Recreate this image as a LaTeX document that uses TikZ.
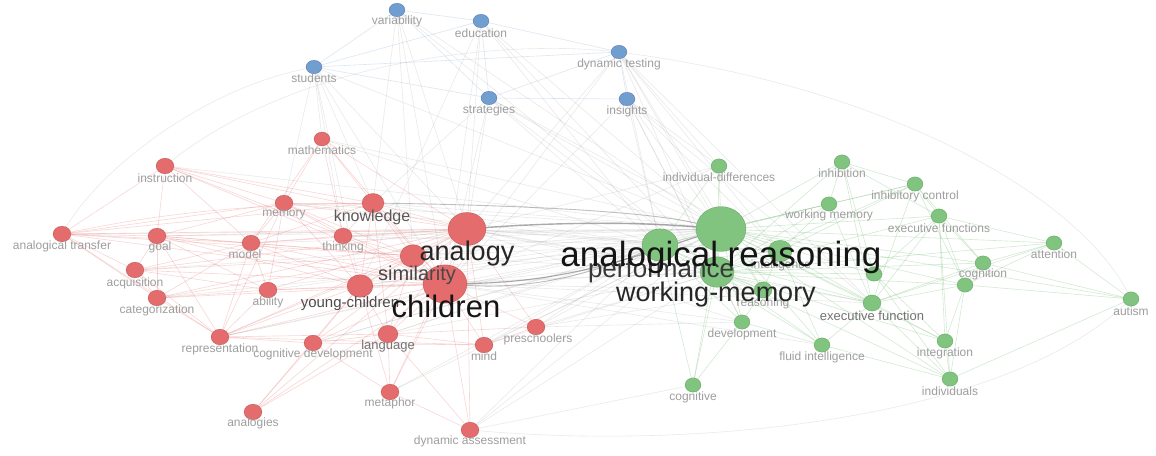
\documentclass[tikz,border=0pt]{standalone}
\usepackage{fontspec}
\setmainfont{Liberation Sans}
\usetikzlibrary{shapes.geometric,backgrounds}
\definecolor{redN}{RGB}{228,108,108}
\definecolor{blueN}{RGB}{112,158,206}
\definecolor{greenN}{RGB}{128,196,128}
\definecolor{redE}{RGB}{236,120,120}
\definecolor{greyE}{RGB}{150,150,150}
\definecolor{greenE}{RGB}{110,185,110}
\definecolor{blueE}{RGB}{140,175,210}
\definecolor{labG}{RGB}{158,158,158}
\tikzset{
  vnode/.style={ellipse, inner sep=0pt, draw opacity=0.3, line width=0.4pt},
  rn/.style={vnode, fill=redN, draw=red!40!black},
  bn/.style={vnode, fill=blueN, draw=blue!40!black},
  gn/.style={vnode, fill=greenN, draw=green!30!black},
  slab/.style={inner sep=0pt, text=labG, font=\fontsize{12}{14}\selectfont},
  mlab/.style={inner sep=0pt, text=black!55, font=\fontsize{13}{15}\selectfont},
  blab/.style={inner sep=0pt, anchor=base},
  re/.style={draw=redE, opacity=0.3, line width=0.6pt},
  ge/.style={draw=greyE, opacity=0.2, line width=0.6pt},
  gre/.style={draw=greenE, opacity=0.3, line width=0.6pt},
  be/.style={draw=blueE, opacity=0.3, line width=0.6pt},
  thick grey/.style={draw=black!55, opacity=0.6, line width=1.4pt},
}
\begin{document}
\begin{tikzpicture}[x=1pt,y=-1pt]
\useasboundingbox (0,0) rectangle (1156,455);
% ---------- nodes ----------
\foreach \n/\x/\y/\r in {var/397/10/8, edu/481/21/8, stu/314/67/8, dyt/619/52/8, str/489/98/8, ins/627/99/8}
  \node[bn, minimum width=2*\r pt, minimum height=1.7*\r pt] (\n) at (\x,\y) {};
\foreach \n/\x/\y/\r in {math/322/139/8, instr/165/166/9, mem/284/203/9, know/373/203/11, atr/62/234/9, goal/157/236/9, model/251/243/9, think/343/236/9, analogy/467/229/19, sim/413/256/13, acq/135/270/9, cat/157/298/9, abil/268/290/9, yc/360/286/13, child/445/284/22, repr/220/337/9, cogdev/313/343/9, lang/388/334/10, mind/484/345/9, presch/536/327/9, meta/390/392/9, analogies/253/412/9, dyna/470/430/9}
  \node[rn, minimum width=2*\r pt, minimum height=1.75*\r pt] (\n) at (\x,\y) {};
\foreach \n/\x/\y/\r in {indiv/719/166/8, inhib/842/162/8, inhc/915/184/8, wmem/829/204/8, exfs/939/216/8, ar/721/229/25, perf/660/245/18, wm/717/272/17, intel/780/251/12, attn/1054/243/8, cogn/983/263/8, ga/874/274/8, gb/965/285/8, reas/763/290/9, exf/872/303/9, dev/742/322/8, fluid/822/345/8, integ/945/341/8, autism/1131/299/8, cogv/693/385/8, indivs/950/379/8}
  \node[gn, minimum width=2*\r pt, minimum height=1.8*\r pt] (\n) at (\x,\y) {};
% ---------- edges ----------
\begin{pgfonlayer}{background}
\fill[white] (0,0) rectangle (1156,455);
\foreach \a/\b in {analogy/know, analogy/mem, analogy/think, analogy/sim, analogy/yc, analogy/child, analogy/model, analogy/goal, analogy/atr, analogy/acq, analogy/cat, analogy/abil, analogy/repr, analogy/cogdev, analogy/lang, analogy/mind, analogy/meta, analogy/dyna, analogy/instr, analogy/math, analogy/presch, analogy/analogies,
 child/sim, child/yc, child/lang, child/mind, child/meta, child/repr, child/cogdev, child/abil, child/model, child/goal, child/acq, child/cat, child/atr, child/mem, child/know, child/think, child/presch, child/dyna, child/analogies, child/instr, child/math,
 sim/yc, sim/know, sim/mem, sim/think, sim/model, sim/goal, sim/atr, sim/lang, sim/cat, sim/acq, sim/repr,
 yc/mem, yc/think, yc/lang, yc/cogdev, yc/repr, yc/model, yc/know, yc/abil, yc/meta, yc/analogies, yc/goal,
 know/mem, know/think, know/math, know/instr, know/atr, know/model, know/lang,
 atr/mem, atr/goal, atr/acq, atr/repr, atr/model, atr/instr, atr/cat,
 instr/mem, instr/model, instr/think, instr/goal,
 mem/think, mem/model, mem/goal, mem/abil, mem/repr, mem/math,
 math/think, math/model, goal/model, goal/repr, goal/cat, goal/acq, goal/abil,
 model/abil, model/repr, model/cat, model/acq, model/think,
 acq/repr, acq/cat, acq/abil, cat/repr, cat/abil,
 repr/cogdev, repr/lang, repr/abil, repr/mind,
 cogdev/lang, cogdev/mind, cogdev/analogies, cogdev/meta,
 lang/meta, lang/mind, lang/presch, mind/presch, meta/dyna, analogies/lang, dyna/lang}
  \draw[re] (\a) -- (\b);
\foreach \a/\b in {analogy/perf, analogy/wm, child/perf, child/wm, sim/perf, sim/ar, know/ar, yc/ar, yc/perf, mem/ar, think/perf, lang/ar, lang/perf, presch/ar, presch/wm, presch/perf, mind/ar, mind/perf, dyna/perf, dyna/ar, dyna/cogv, dyna/wm, meta/ar, cogdev/ar, repr/perf, child/intel, analogy/intel, child/dev, analogy/exf, child/reas,
 mem/perf, think/ar, model/ar, goal/ar, atr/ar, abil/ar, repr/ar, cat/perf, acq/ar, instr/ar, math/ar, math/perf, know/perf, yc/wm, sim/wm, lang/wm, mind/wm, presch/dev, presch/reas, child/exf, analogy/reas, analogy/dev, child/fluid, analogy/indiv, child/indiv, meta/perf, cogdev/perf,
 stu/math, stu/know, stu/analogy, stu/child, stu/think, stu/yc, stu/ar, stu/mem,
 var/analogy, var/child, var/sim, var/ar, var/wm, var/know,
 edu/child, edu/ar, edu/perf, edu/analogy, edu/wm, edu/yc,
 dyt/ar, dyt/perf, dyt/wm, dyt/intel, dyt/child, dyt/exf, dyt/analogy, dyt/indiv, dyt/reas,
 str/ar, str/child, str/perf, str/analogy, str/wm, str/intel, str/know,
 ins/ar, ins/perf, ins/wm, ins/intel, ins/child, ins/exf, ins/dev, ins/indiv}
  \draw[ge] (\a) -- (\b);
\foreach \a/\b in {var/edu, var/stu, var/str, edu/dyt, edu/str, edu/stu, stu/str, stu/dyt, dyt/str, dyt/ins, str/ins}
  \draw[be] (\a) -- (\b);
\foreach \a/\b in {ar/indiv, ar/inhib, ar/inhc, ar/wmem, ar/exfs, ar/perf, ar/intel, ar/attn, ar/cogn, ar/ga, ar/gb, ar/reas, ar/exf, ar/dev, ar/fluid, ar/integ, ar/autism, ar/cogv, ar/indivs, ar/wm,
 wm/perf, wm/intel, wm/wmem, wm/exfs, wm/inhc, wm/inhib, wm/exf, wm/reas, wm/dev, wm/fluid, wm/integ, wm/indivs, wm/cogv, wm/ga, wm/gb, wm/cogn, wm/attn, wm/indiv,
 perf/indiv, perf/intel, perf/reas, perf/dev, perf/cogv, perf/fluid, perf/exf, perf/wmem,
 intel/reas, intel/fluid, intel/wmem, intel/exf, intel/inhc,
 exf/inhib, exf/inhc, exf/wmem, exf/exfs, exf/integ, exf/indivs, exf/cogn, exf/gb, exf/attn, exf/fluid,
 inhib/inhc, inhib/wmem, inhib/exfs, inhib/ga, inhc/exfs, inhc/wmem, inhc/gb, inhc/cogn,
 exfs/attn, exfs/cogn, exfs/gb, exfs/indivs, exfs/integ, exfs/ga,
 attn/autism, attn/gb, attn/cogn, cogn/gb, gb/integ, gb/indivs, ga/integ, ga/indivs,
 integ/indivs, fluid/indivs, fluid/dev, dev/cogv, reas/dev, indivs/autism, autism/gb, autism/cogn}
  \draw[gre] (\a) -- (\b);
% long faint curves
\draw[ge] (stu) .. controls (200,90) and (100,170) .. (atr);
\draw[ge] (dyt) .. controls (900,90) and (1080,200) .. (autism);
\draw[ge] (dyna) .. controls (700,450) and (1000,420) .. (autism);
\draw[ge] (instr) .. controls (300,60) and (500,40) .. (dyt);
\draw[re] (atr) .. controls (200,205) and (300,205) .. (know);
% strong links
\draw[thick grey] (analogy) .. controls (560,222) and (640,222) .. (ar);
\draw[thick grey, line width=1.1pt] (child) .. controls (560,282) and (620,262) .. (ar);
\draw[thick grey, line width=0.9pt, opacity=0.45] (know) .. controls (500,205) and (640,210) .. (ar);
\draw[thick grey, line width=0.9pt, opacity=0.45] (child) .. controls (540,290) and (600,270) .. (perf);
\end{pgfonlayer}
% ---------- labels ----------
\foreach \n/\x/\y/\t in {var/397/21/variability, edu/481/33/education, stu/314/78/students, dyt/619/64/dynamic testing, str/489/110/strategies, ins/627/111/insights,
 math/322/150/mathematics, instr/165/178/instruction, mem/284/215/memory, atr/62/246/analogical transfer, goal/160/247/goal, model/245/254/model, think/343/247/thinking, acq/135/283/acquisition, cat/157/310/categorization, abil/268/302/ability, repr/220/349/representation, cogdev/313/354/cognitive development, mind/484/356/mind, presch/538/339/preschoolers, meta/390/403/metaphor, analogies/253/423/analogies, dyna/470/441/dynamic assessment,
 indiv/719/177/individual-differences, inhib/842/173/inhibition, inhc/915/196/inhibitory control, wmem/829/215/working memory, exfs/939/228/executive functions, intel/781/265/intelligence, attn/1054/254/attention, cogn/983/274/cognition, reas/763/303/reasoning, dev/742/334/development, fluid/822/357/fluid intelligence, integ/945/353/integration, autism/1131/311/autism, cogv/693/397/cognitive, indivs/950/391/individuals}
  \node[slab] (\n-l) at (\x,\y) {\t};
\node[mlab] (lang-l) at (388,346) {language};
\node[mlab] (exf-l) at (872,316) {executive function};
\node[blab, text=black!65, font=\fontsize{16}{18}\selectfont] (know-l) at (372,221) {knowledge};
\node[blab, text=black!70, font=\fontsize{15}{17}\selectfont] (yc-l) at (350,307) {young-children};
\node[blab, text=black!72, font=\fontsize{20}{22}\selectfont] (sim-l) at (417,280) {similarity};
\node[blab, text=black!78, font=\fontsize{26}{28}\selectfont] (perf-l) at (661,277) {performance};
\node[blab, text=black!85, font=\fontsize{27}{29}\selectfont] (wm-l) at (716,301) {working-memory};
\node[blab, text=black!85, font=\fontsize{27}{29}\selectfont] (analogy-l) at (467,260) {analogy};
\node[blab, text=black!92, font=\fontsize{31}{33}\selectfont] (child-l) at (446,317) {children};
\node[blab, text=black!92, font=\fontsize{35}{37}\selectfont] (ar-l) at (721,266) {analogical reasoning};
\end{tikzpicture}
\end{document}
